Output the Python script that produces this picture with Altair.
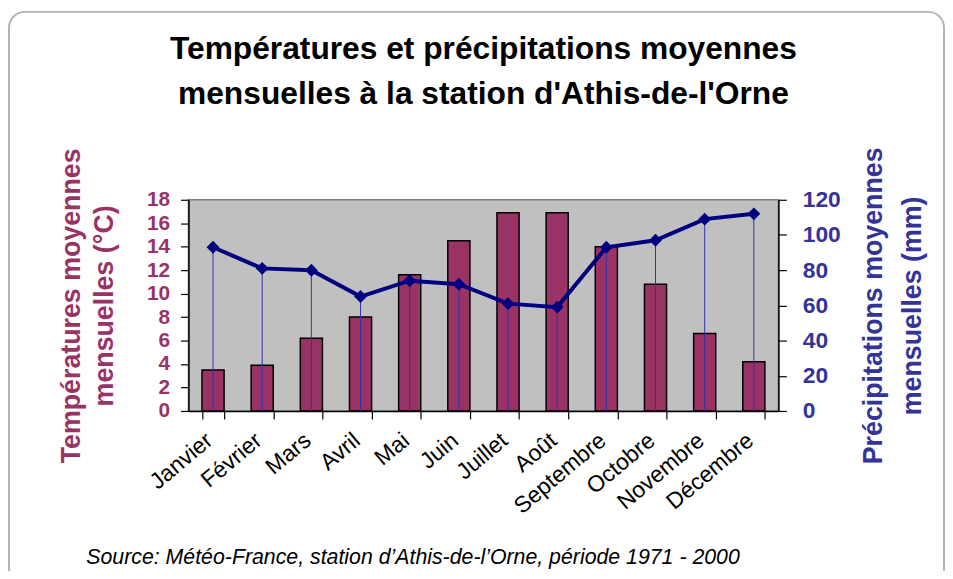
import altair as alt
import pandas as pd

# ---- data ----
mois = ["Janvier", "Février", "Mars", "Avril", "Mai", "Juin", "Juillet",
        "Août", "Septembre", "Octobre", "Novembre", "Décembre"]
temperatures = [3.5, 3.9, 6.2, 8.0, 11.6, 14.5, 16.9, 16.9, 14.0, 10.8, 6.6, 4.2]
precipitations = [93, 81, 80, 65, 74, 72, 61, 59, 93, 97, 109, 112]
temp_ticks = [0, 2, 4, 6, 8, 10, 12, 14, 16, 18]
prec_ticks = [0, 20, 40, 60, 80, 100, 120]

titre = ["Températures et précipitations moyennes",
         "mensuelles à la station d'Athis-de-l'Orne"]
titre_temp = ["Températures moyennes", "mensuelles (°C)"]
titre_prec = ["Précipitations moyennes", "mensuelles (mm)"]
source = "Source: Météo-France, station d’Athis-de-l’Orne, période 1971 - 2000"

df = pd.DataFrame({"mois": mois, "temperature": temperatures,
                   "precipitation": precipitations})

FONT = "Liberation Sans"
C_TEMP = "#993366"
C_PREC = "#333399"

x_enc = alt.X(
    "mois:N", sort=mois,
    scale=alt.Scale(paddingInner=0.55, paddingOuter=0.275),
    axis=alt.Axis(
        title=source, titleFont=FONT, titleFontSize=21.5, titleFontStyle="italic",
        titleFontWeight="normal", titleColor="black",
        titleX=226, titleY=154, titleAlign="center", titleBaseline="alphabetic",
        labelAngle=-40, labelFont=FONT, labelFontSize=23, labelColor="black",
        labelPadding=10, labelOffset=-11, tickBand="extent", tickSize=8,
        tickColor="black", tickWidth=1.2, domainColor="black", domainWidth=1.5,
        grid=False,
    ),
)

y_temp = alt.Y(
    "temperature:Q",
    scale=alt.Scale(domain=[0, 18], nice=False),
    axis=alt.Axis(
        orient="left", values=temp_ticks, grid=False,
        labelFont=FONT, labelFontSize=21, labelFontWeight="bold", labelColor=C_TEMP,
        labelPadding=11, tickSize=8, tickColor="black", tickWidth=1.2,
        domainColor="black", domainWidth=1.5,
        title=titre_temp, titleFont=FONT, titleFontSize=27, titleFontWeight="bold",
        titleColor=C_TEMP, titleAngle=-90, titleBaseline="middle", titleAlign="center",
        titleLineHeight=33, titleX=-118, titleY=106.5,
    ),
)

y_prec = alt.Y(
    "precipitation:Q",
    scale=alt.Scale(domain=[0, 120], nice=False),
    axis=alt.Axis(
        orient="right", values=prec_ticks, grid=False,
        labelFont=FONT, labelFontSize=23, labelFontWeight="bold", labelColor=C_PREC,
        labelPadding=16, tickSize=8, tickColor="black", tickWidth=1.2,
        domainColor="black", domainWidth=1.5,
        title=titre_prec, titleFont=FONT, titleFontSize=27, titleFontWeight="bold",
        titleColor=C_PREC, titleAngle=-90, titleBaseline="middle", titleAlign="center",
        titleLineHeight=39, titleX=96, titleY=106.5,
    ),
)

cadre = alt.Chart(alt.Data(values=[{}])).mark_rect(
    fill="white", fillOpacity=0, stroke="#b4b4b4", strokeWidth=2, cornerRadius=16
).encode(
    x=alt.value(-181), x2=alt.value(762), y=alt.value(-189.5), y2=alt.value(420)
)

barres = alt.Chart(df).mark_bar(
    color=C_TEMP, stroke="black", strokeWidth=1.5
).encode(x=x_enc, y=y_temp)

base = alt.Chart(df)
tiges = base.mark_rule(color="#3333aa", strokeWidth=1).encode(
    x=x_enc, y=y_prec, y2=alt.datum(0)
)
courbe = base.mark_line(color="#000080", strokeWidth=4).encode(x=x_enc, y=y_prec)
points = base.mark_point(
    shape="diamond", filled=True, size=170, color="#000080", opacity=1
).encode(x=x_enc, y=y_prec)

prec_layer = alt.layer(tiges, courbe, points)

chart = alt.layer(cadre, barres, prec_layer).resolve_scale(
    y="independent"
).properties(
    width=595, height=213,
    autosize=alt.AutoSizeParams(type="none"),
    padding={"left": 182, "top": 191, "right": 168, "bottom": 159},
    title=alt.TitleParams(
        text=titre, font=FONT, fontSize=32, fontWeight="bold", color="black",
        anchor="middle", lineHeight=45, baseline="bottom", offset=-133,
    ),
).configure_view(
    fill="#c0c0c0", stroke="#808080", strokeWidth=1.5
)

chart.save("out.html", embed_options={"renderer": "svg", "actions": False})
